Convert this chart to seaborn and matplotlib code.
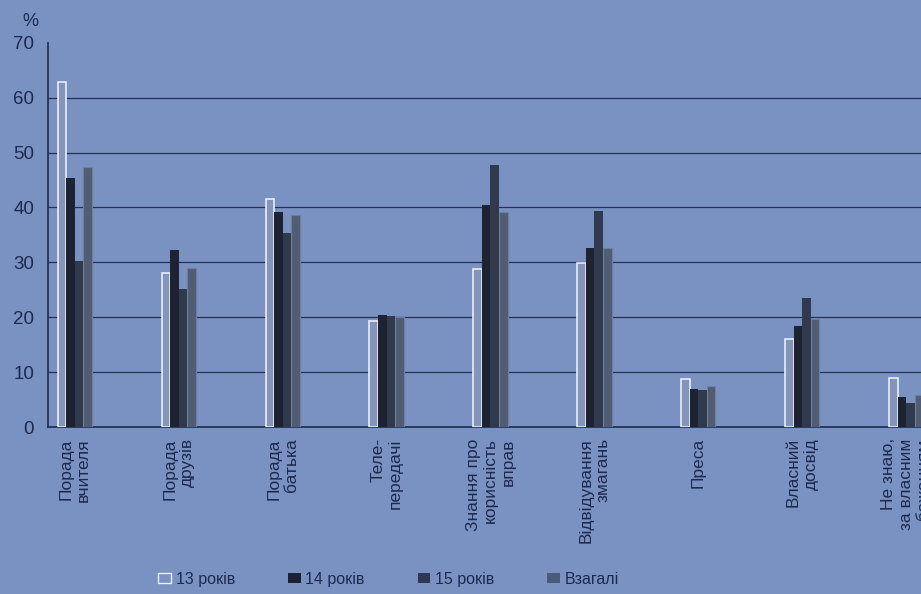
import numpy as np
import pandas as pd
import matplotlib.pyplot as plt
import seaborn as sns
from matplotlib.patches import Patch

# Categories (x axis) and the four series, values in %
categories = ["Порада\nвчителя", "Порада\nдрузів", "Порада\nбатька", "Теле-\nпередачі",
              "Знання про\nкорисність\nвправ", "Відвідування\nзмагань", "Преса",
              "Власний\nдосвід", "Не знаю,\nза власним\nбажанням"]
series = ["13 років", "14 років", "15 років", "Взагалі"]
age13 = [62.8, 28.0, 41.6, 19.3, 28.8, 29.8, 8.7, 16.0, 9.0]
age14 = [45.3, 32.3, 39.2, 20.5, 40.4, 32.6, 7.0, 18.5, 5.5]
age15 = [30.2, 25.2, 35.3, 20.3, 47.7, 39.4, 6.8, 23.5, 4.3]
overall = [47.3, 28.9, 38.6, 20.1, 39.2, 32.6, 7.4, 19.6, 5.9]

bg = "#7a92c2"
ink = "#1d2a4f"
palette = {"13 років": bg, "14 років": "#1a2134", "15 років": "#2d3950", "Взагалі": "#4a5b78"}

df = pd.DataFrame({
    "category": categories * 4,
    "series": np.repeat(series, len(categories)),
    "value": age13 + age14 + age15 + overall,
})

sns.set_style("white")
plt.rcParams["font.family"] = ["Liberation Sans", "DejaVu Sans"]

fig = plt.figure(figsize=(9.21, 5.94), dpi=100)
fig.patch.set_facecolor(bg)
ax = fig.add_axes([0.052, 0.281, 0.96, 0.647])
ax.set_facecolor(bg)

sns.barplot(data=df, x="category", y="value", hue="series", order=categories,
            hue_order=series, palette=palette, width=0.33, dodge=True,
            ax=ax, legend=False, zorder=3, edgecolor="none")

# outline for the hollow 13 років bars
for bar in ax.containers[0]:
    bar.set_edgecolor("#e9eef8")
    bar.set_linewidth(1.2)
for bar in ax.containers[3]:
    bar.set_edgecolor("#6e80a0")
    bar.set_linewidth(0.8)

ax.set_ylim(0, 70)
ax.set_xlim(-0.26, 8.17)
ax.set_yticks(range(0, 71, 10))
ax.yaxis.grid(True, color="#243156", linewidth=0.9)
ax.get_ygridlines()[-1].set_visible(False)
ax.set_axisbelow(True)
for s in ["top", "right"]:
    ax.spines[s].set_visible(False)
for s in ["left", "bottom"]:
    ax.spines[s].set_color(ink)
    ax.spines[s].set_linewidth(1.2)

ax.tick_params(axis="y", labelsize=13.5, colors=ink, length=4, direction="out", pad=6)
ax.tick_params(axis="x", length=0, pad=8)
ax.set_xticks(range(len(categories)))
ax.set_xticklabels(categories, rotation=90, ha="center", va="top",
                   multialignment="right", fontsize=12.5, color=ink)
ax.set_xticks([i + d for i in range(len(categories)) for d in (-0.25, 0.25)], minor=True)
ax.tick_params(axis="x", which="minor", length=4, color=ink, direction="inout")
ax.set_xlabel("")
ax.set_ylabel("")
fig.text(30 / 921, 1 - 22 / 594, "%", fontsize=13, color=ink, ha="center", va="center")

handles = [Patch(facecolor=palette[s], edgecolor="#e9eef8" if s == "13 років" else "none",
                 label=s) for s in series]
fig.legend(handles=handles, loc="lower center", bbox_to_anchor=(0.422, -0.012), ncol=4,
           frameon=False, fontsize=11.5, handlelength=0.8, handleheight=0.6,
           handletextpad=0.3, columnspacing=3.3, labelcolor=ink)

fig.savefig("out.png", dpi=100, facecolor=bg)
